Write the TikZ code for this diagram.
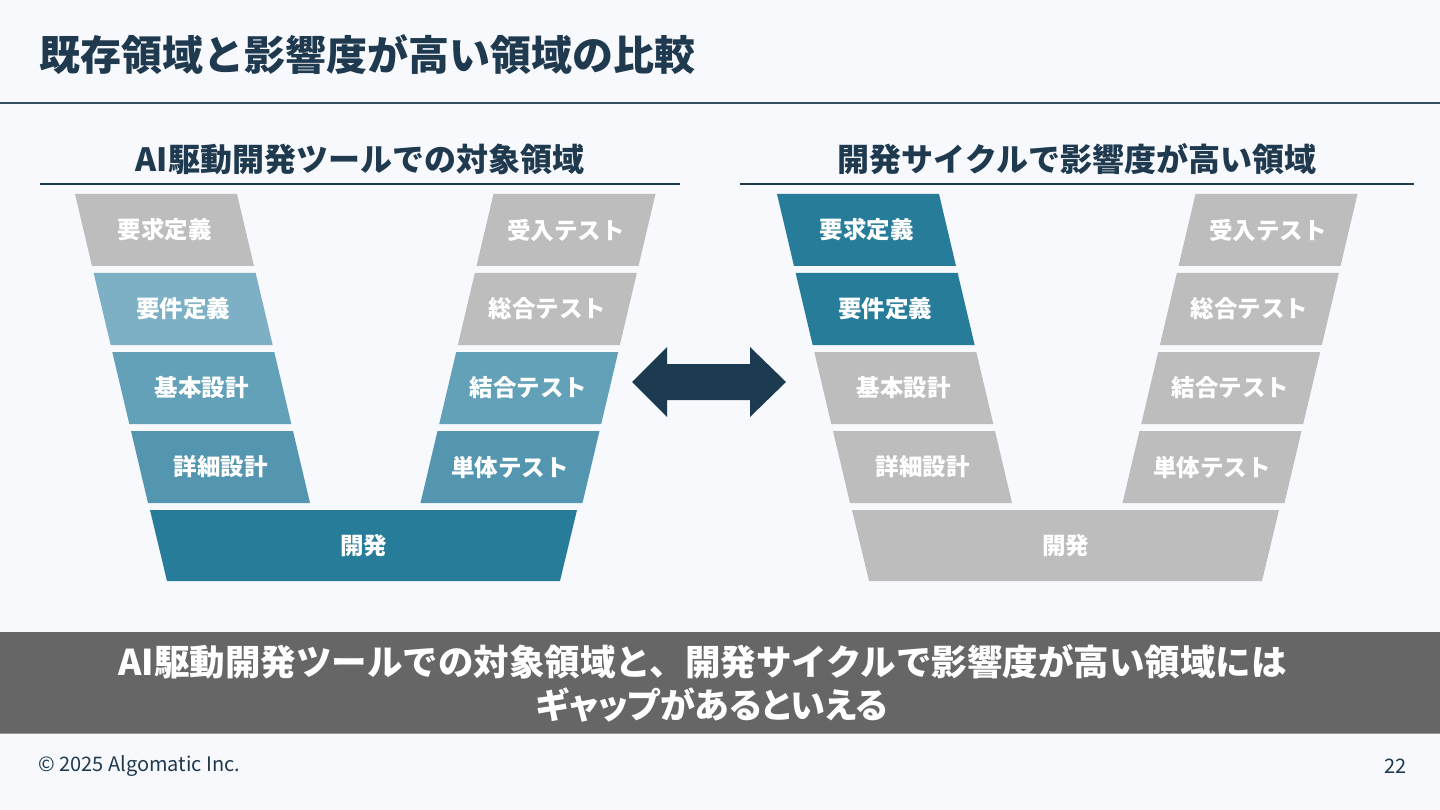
\documentclass[tikz,border=0pt]{standalone}
\usepackage{fontspec}
\setmainfont{Noto Sans CJK JP}
\newfontfamily\bandfont{Noto Sans CJK JP}[RawFeature=+palt]
\definecolor{bg}{HTML}{F7F9FD}
\definecolor{navy}{HTML}{1F3A4F}
\definecolor{arrowc}{HTML}{1C3A50}
\definecolor{gblock}{HTML}{BDBDBD}
\definecolor{tlight}{HTML}{7DB0C4}
\definecolor{tmid}{HTML}{63A1B9}
\definecolor{tmidd}{HTML}{5496AF}
\definecolor{tdark}{HTML}{277C99}
\definecolor{band}{HTML}{666666}
\definecolor{bandline}{HTML}{9A9A9A}
\newcommand\slantblock[7]{%
  \fill[#6] (#2,#3) -- ++(#5,0) -- ++(#4,72) -- ++(-#5,0) -- cycle;
  \node[blocktext] (#1) at ({#2+#5/2+#4/2},{#3+36}) {#7};
}
\tikzset{
  blocktext/.style={text=white, font=\bfseries\fontsize{23.5}{28}\selectfont, inner sep=0pt},
  headtext/.style={text=navy, font=\bfseries\fontsize{32}{38}\selectfont, inner sep=0pt},
  bandtext/.style={text=white, inner sep=0pt},
  foot/.style={text=navy, font=\fontsize{20}{24}\selectfont, inner sep=0pt},
  rule/.style={draw=navy, line width=2pt},
}
\begin{document}
\begin{tikzpicture}[x=1pt,y=-1pt]
\fill[bg] (0,0) rectangle (1440,810);
\useasboundingbox (0,0) rectangle (1440,810);
% title
\node[anchor=west, text=navy, font=\bfseries\fontsize{41}{48}\selectfont, inner sep=0pt] (title) at (39,55) {既存領域と影響度が高い領域の比較};
\draw[navy!90, line width=2pt] (0,103) -- (1440,103);
% headers
\node[headtext] (hl) at (360,159) {AI駆動開発ツールでの対象領域};
\draw[rule] (40,184) -- (680,184);
\node[headtext] (hr) at (1077,159) {開発サイクルで影響度が高い領域};
\draw[rule] (740,184) -- (1414,184);
% left V
\slantblock{l1}{75}{194}{17}{162}{gblock}{要求定義}
\slantblock{l2}{93.65}{273}{17}{162}{tlight}{要件定義}
\slantblock{l3}{112.3}{352}{17}{162}{tmid}{基本設計}
\slantblock{l4}{131}{431}{17}{162}{tmidd}{詳細設計}
\slantblock{r1}{493.5}{194}{-17}{162}{gblock}{受入テスト}
\slantblock{r2}{474.85}{273}{-17}{162}{gblock}{総合テスト}
\slantblock{r3}{456.2}{352}{-17}{162}{tmid}{結合テスト}
\slantblock{r4}{437.5}{431}{-17}{162}{tmidd}{単体テスト}
\fill[tdark] (150,510) -- (577,510) -- (560,581) -- (167,581) -- cycle;
\node[blocktext] (dev) at (363.5,545.5) {開発};
% right V
\begin{scope}[xshift=702]
\slantblock{ql1}{75}{194}{17}{162}{tdark}{要求定義}
\slantblock{ql2}{93.65}{273}{17}{162}{tdark}{要件定義}
\slantblock{ql3}{112.3}{352}{17}{162}{gblock}{基本設計}
\slantblock{ql4}{131}{431}{17}{162}{gblock}{詳細設計}
\slantblock{qr1}{493.5}{194}{-17}{162}{gblock}{受入テスト}
\slantblock{qr2}{474.85}{273}{-17}{162}{gblock}{総合テスト}
\slantblock{qr3}{456.2}{352}{-17}{162}{gblock}{結合テスト}
\slantblock{qr4}{437.5}{431}{-17}{162}{gblock}{単体テスト}
\fill[gblock] (150,510) -- (577,510) -- (560,581) -- (167,581) -- cycle;
\node[blocktext] (qdev) at (363.5,545.5) {開発};
\end{scope}
% double arrow
\fill[arrowc] (632,382) -- (667,347) -- (667,364) -- (750,364) -- (750,347) -- (786,382)
  -- (750,417) -- (750,400) -- (667,400) -- (667,417) -- cycle;
% bottom band
\fill[band] (0,632) rectangle (1440,733);
\draw[bandline, line width=1.2pt] (0,733.5) -- (1440,733.5);
\node[bandtext, font=\bfseries\fontsize{35.5}{42}\selectfont] (msg1) at (702.5,662)
  {AI駆動開発ツールでの対象領域と、開発サイクルで影響度が高い領域には};
\node[bandtext, font=\bandfont\bfseries\fontsize{35}{42}\selectfont] (msg2) at (712,705)
  {ギャップがあるといえる};
% footer
\node[anchor=west, foot] (copy) at (38,766) {© 2025 Algomatic Inc.};
\node[anchor=east, foot] (page) at (1407,766) {22};
\end{tikzpicture}
\end{document}
